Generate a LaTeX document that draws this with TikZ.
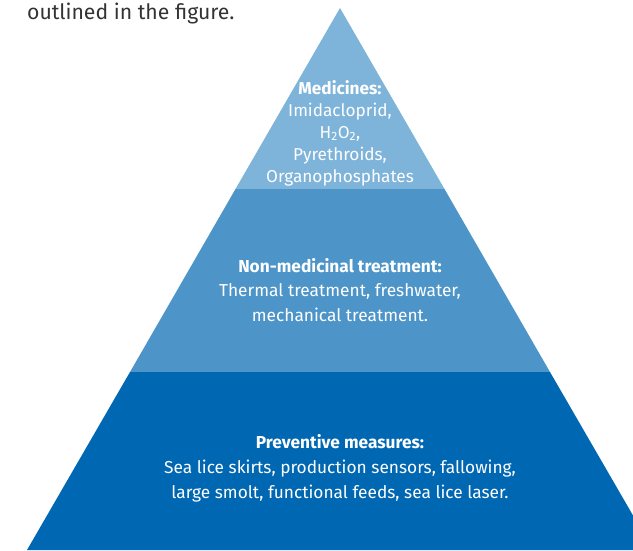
\documentclass[tikz,border=0pt]{standalone}
\usepackage{fontspec}
\setmainfont{Fira Sans}
\definecolor{tierone}{HTML}{7EB3DA}
\definecolor{tiertwo}{HTML}{4D95C9}
\definecolor{tierthree}{HTML}{0067B2}
\definecolor{captext}{HTML}{333333}
\tikzset{
  tiertext/.style={text=white, align=center, inner sep=0pt},
}
\begin{document}
\begin{tikzpicture}[x=1pt,y=-1pt]
\useasboundingbox (0,0) rectangle (633,550);
\clip (0,0) rectangle (633,550);
\coordinate (apex) at (340,8);
\coordinate (l1) at (235.5,189);
\coordinate (r1) at (444.5,189);
\coordinate (l2) at (130,372);
\coordinate (r2) at (550,372);
\coordinate (l3) at (27,550);
\coordinate (r3) at (653,550);
\fill[tierone] (apex) -- (r1) -- (l1) -- cycle;
\fill[tiertwo] (l1) -- (r1) -- (r2) -- (l2) -- cycle;
\fill[tierthree] (l2) -- (r2) -- (r3) -- (l3) -- cycle;
\node[anchor=base west, inner sep=0pt, text=captext, font=\fontsize{21.2}{24}\selectfont] (cap) at (27,19) {outlined in the figure.};
\node[tiertext, font=\fontsize{17.2}{22}\selectfont] (med) at (340,133)
  {\textbf{Medicines:}\\Imidacloprid,\\H\textsubscript{2}O\textsubscript{2},\\Pyrethroids,\\Organophosphates};
\node[tiertext, font=\fontsize{17.3}{24.2}\selectfont] (nonmed) at (340,290)
  {\textbf{Non-medicinal treatment:}\\Thermal treatment, freshwater,\\mechanical treatment.};
\node[tiertext, font=\fontsize{17.3}{25}\selectfont] (prev) at (340,468)
  {\textbf{Preventive measures:}\\Sea lice skirts, production sensors, fallowing,\\large smolt, functional feeds, sea lice laser.};
\end{tikzpicture}
\end{document}
